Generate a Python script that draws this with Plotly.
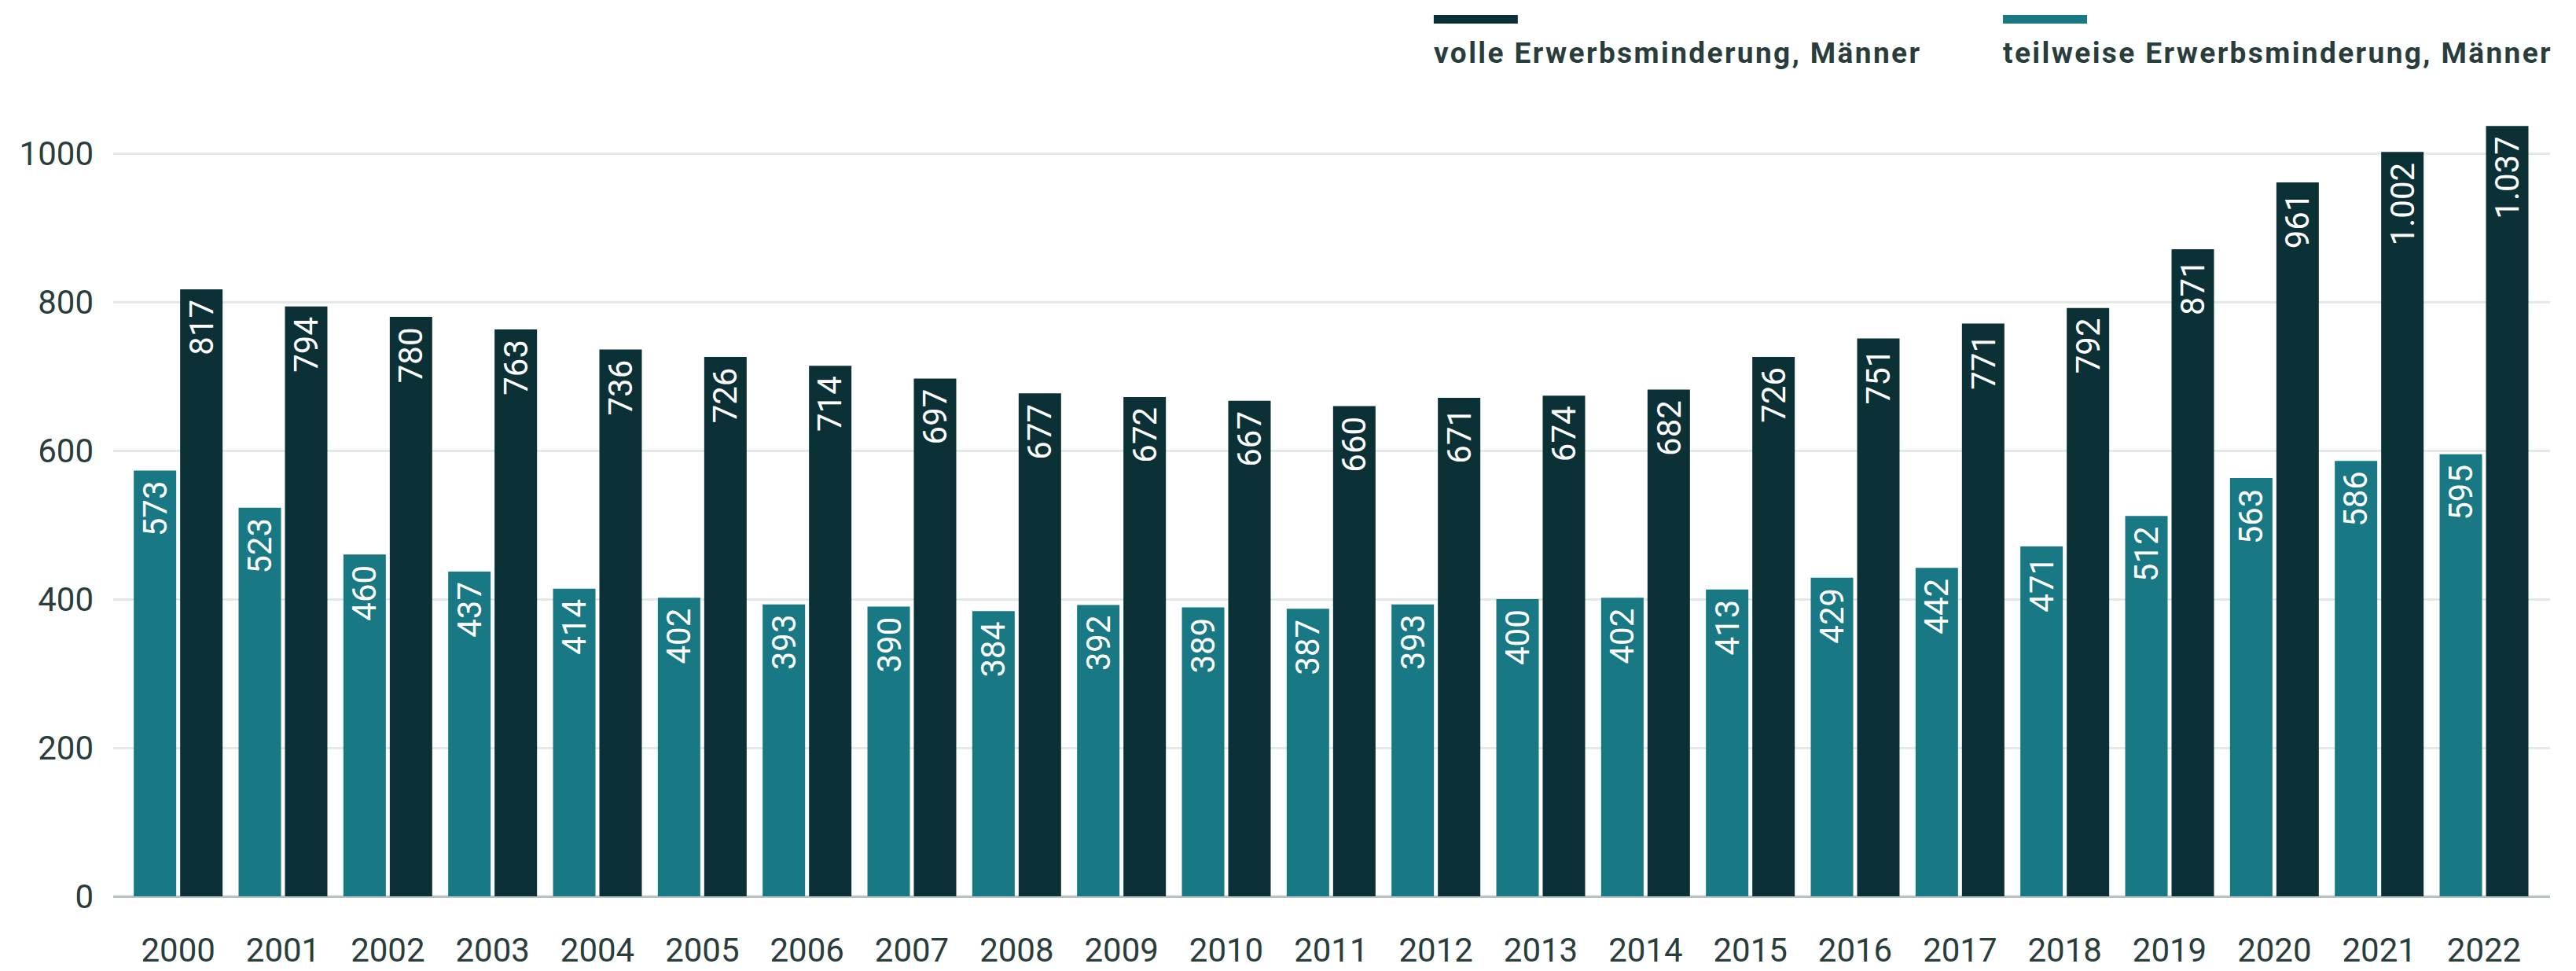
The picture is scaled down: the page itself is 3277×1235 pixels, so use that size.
import plotly.graph_objects as go

years = [str(y) for y in range(2000, 2023)]
teilweise = [573, 523, 460, 437, 414, 402, 393, 390, 384, 392, 389, 387, 393, 400, 402, 413, 429, 442, 471, 512, 563, 586, 595]
volle = [817, 794, 780, 763, 736, 726, 714, 697, 677, 672, 667, 660, 671, 674, 682, 726, 751, 771, 792, 871, 961, 1002, 1037]
series_names = ["teilweise Erwerbsminderung, Männer", "volle Erwerbsminderung, Männer"]
colors = {"teil": "#187884", "voll": "#0b3137"}
y_ticks = [0, 200, 400, 600, 800, 1000]

FONT = "Roboto"
TXT = "#2a3d3d"


def de_fmt(v):
    return f"{v:,}".replace(",", ".")


fig = go.Figure()
for name, vals, col in [(series_names[0], teilweise, colors["teil"]), (series_names[1], volle, colors["voll"])]:
    fig.add_trace(go.Bar(
        x=years, y=vals, name=name, marker=dict(color=col, line=dict(width=0)),
        showlegend=False, hoverinfo="x+y",
    ))

# value labels inside the top of each bar (rotated); x given as category index
for vals, shift in [(teilweise, -29.5), (volle, 29.5)]:
    for i, v in enumerate(vals):
        fig.add_annotation(x=i, y=v, text=de_fmt(v), textangle=-90,
                           xshift=shift, yshift=-12, xanchor="center", yanchor="top",
                           showarrow=False, borderpad=0,
                           font=dict(family=FONT, size=42, color="white"))

fig.update_layout(
    width=3277, height=1235,
    margin=dict(l=144, r=33, t=60, b=95, autoexpand=False),
    plot_bgcolor="white", paper_bgcolor="white",
    barmode="group", bargap=0.115, bargroupgap=0.085,
    separators=",.",
    font=dict(family=FONT, color=TXT),
    xaxis=dict(type="category", range=[-0.62, 22.63], showgrid=False, ticks="",
               tickfont=dict(family=FONT, size=42, color=TXT), automargin=False,
               ticklabelstandoff=40, showline=False, zeroline=False),
    yaxis=dict(range=[0, 1143], tickvals=y_ticks, tickformat="d", automargin=False,
               showgrid=True, gridcolor="#e3e8e8", gridwidth=3,
               zeroline=True, zerolinecolor="#b4c3c3", zerolinewidth=3,
               tickfont=dict(family=FONT, size=42, color=TXT),
               ticklabelstandoff=24, ticks=""),
)

# custom legend: swatch above label
legend_items = [(series_names[1], colors["voll"], 0.5419), (series_names[0], colors["teil"], 0.7755)]
for name, col, x0 in legend_items:
    fig.add_shape(type="rect", xref="paper", yref="paper", x0=x0, x1=x0 + 0.0345,
                  y0=1.0278, y1=1.0380, fillcolor=col, line=dict(width=0))
    fig.add_annotation(text=f'<span style="letter-spacing:2.4px">{name}</span>',
                       xref="paper", yref="paper", x=x0 - 0.0006, y=0.9935,
                       xanchor="left", yanchor="middle", showarrow=False,
                       font=dict(family=FONT, size=37, color=TXT, weight="bold"))

fig.write_html("out.html")
